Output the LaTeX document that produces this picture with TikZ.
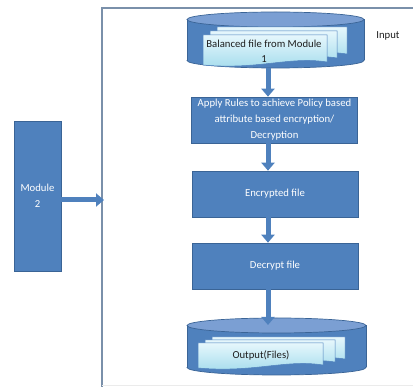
\documentclass[tikz,border=0pt]{standalone}
\usepackage{fontspec}
\setmainfont{Carlito}
\usetikzlibrary{arrows.meta}
\definecolor{boxblue}{HTML}{4F81BD}
\definecolor{boxedge}{HTML}{3A6496}
\definecolor{toplight}{HTML}{7B9FD3}
\definecolor{framecol}{HTML}{7A90AA}
\definecolor{pagetop}{HTML}{E6F7FC}
\definecolor{pagebot}{HTML}{A2DBEC}
\definecolor{darktext}{HTML}{1E1E1E}
\tikzset{
  procbox/.style={draw=boxedge, line width=0.6pt, fill=boxblue, text=white, align=center,
    minimum width=166pt, minimum height=46pt, inner sep=0pt,
    font=\fontsize{10.7}{16}\selectfont},
  flowarrow/.style={draw=boxblue, line width=5pt, -{Triangle[width=13pt,length=8pt]}},
  darklabel/.style={text=darktext, align=center, inner sep=0pt, font=\fontsize{10.7}{15}\selectfont},
  cylbody/.style={fill=boxblue, draw=boxedge, line width=0.7pt},
  cyltop/.style={fill=toplight, draw=boxedge, line width=0.7pt},
  docpage/.style={draw=boxblue, line width=0.5pt, top color=pagetop, bottom color=pagebot},
}
\newcommand{\docsheet}[4]{% x1 y1 x2 y2
  \path[docpage] (#1,#2) -- (#3,#2) -- (#3,#4-3)
    .. controls ({#3-0.3*(#3-#1)},#4-9) and ({#1+0.45*(#3-#1)},#4+5) .. (#1,#4) -- cycle;}
\newcommand{\drawcyl}[5]{% cx rx ytop ybot ry
  \path[cylbody] (#1,#4) ellipse [x radius=#2, y radius=#5];
  \fill[boxblue] (#1-#2,#3) rectangle (#1+#2,#4);
  \draw[boxedge, line width=0.7pt] (#1-#2,#3) -- (#1-#2,#4) (#1+#2,#3) -- (#1+#2,#4);
  \path[cyltop] (#1,#3) ellipse [x radius=#2, y radius=#5];}
\begin{document}
\begin{tikzpicture}[x=1pt,y=-1pt]
\useasboundingbox (0,0) rectangle (413,387);
% frame
\draw[framecol, line width=1.4pt] (420,8) -- (102,8) -- (102,390);
\draw[black!8, line width=1pt] (102,385.5) -- (420,385.5);
% top cylinder
\drawcyl{275.5}{88.5}{19.5}{60.5}{7.5}
\docsheet{217}{27}{347}{57}
\docsheet{210}{31}{337}{61}
\docsheet{203}{35}{327}{65}
\node[darklabel] (inlabel) at (264,51) {Balanced file from Module\\1};
\coordinate (incylbot) at (268,68);
\node[darklabel] (intext) at (388,36) {Input};
% bottom cylinder
\drawcyl{276.5}{89.5}{325.5}{367.5}{7.5}
\docsheet{212}{337}{345}{362}
\docsheet{205}{340}{335}{365}
\docsheet{198}{343}{323}{368}
\node[darklabel] (outlabel) at (261,355) {Output(Files)};
\coordinate (outcyltop) at (268,325);
% process boxes
\node[procbox] (rules) at (274.5,120) {Apply Rules to achieve Policy based\\attribute based encryption/\\Decryption};
\node[procbox] (enc) at (275,194) {Encrypted file};
\node[procbox] (dec) at (275,266) {Decrypt file};
\node[procbox, minimum width=47pt, minimum height=150pt] (module) at (37.5,196) {Module\\2};
% arrows
\coordinate (ax) at (268,0);
\coordinate (frameleft) at (104,200);
\draw[flowarrow] (incylbot) -- (rules.north -| ax);
\draw[flowarrow] (rules.south -| ax) -- (enc.north -| ax);
\draw[flowarrow] (enc.south -| ax) -- (dec.north -| ax);
\draw[flowarrow] (dec.south -| ax) -- (outcyltop);
\draw[flowarrow] (module.east |- frameleft) -- (frameleft);
\end{tikzpicture}
\end{document}
